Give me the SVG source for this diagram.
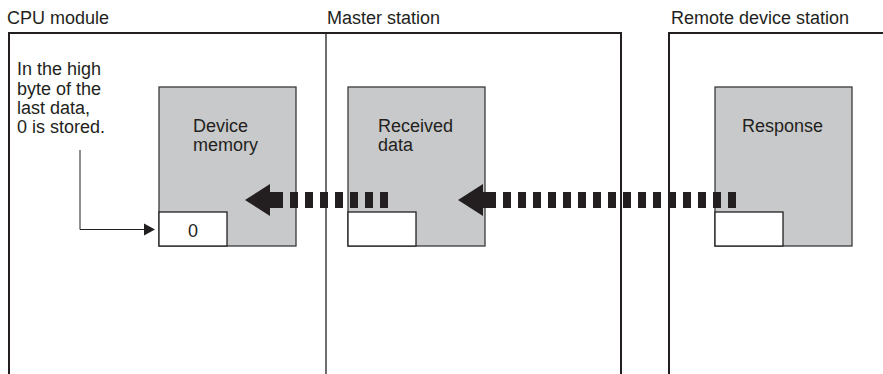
<svg xmlns="http://www.w3.org/2000/svg" width="883" height="374" viewBox="0 0 883 374">
<style>
  text { font-family: "Liberation Sans", Arial, sans-serif; font-size: 18px; fill: #231f20; }
  .frame { fill: none; stroke: #231f20; stroke-width: 2; }
  .div { fill: none; stroke: #231f20; stroke-width: 1.3; }
  .gray { fill: #c8c9ca; stroke: #3a3a3a; stroke-width: 1.3; }
  .white { fill: #ffffff; stroke: #231f20; stroke-width: 1.3; }
  .dash { fill: none; stroke: #231f20; stroke-width: 16; stroke-dasharray: 8 7; }
  .thin { fill: none; stroke: #231f20; stroke-width: 1; }
</style>
<rect width="883" height="374" fill="#ffffff"/>

<g id="cpu-module">
  <text x="7" y="24">CPU module</text>
  <path class="frame" d="M9,380 V33 H326"/>
  <text x="17" y="75">In the high</text>
  <text x="17" y="94.5">byte of the</text>
  <text x="17" y="114">last data,</text>
  <text x="17" y="133">0 is stored.</text>
</g>

<g id="master-station">
  <text x="327" y="24">Master station</text>
  <path class="frame" d="M326,33 H621 V380"/>
  <path class="div" d="M326,33 V380"/>
</g>

<g id="remote-station">
  <text x="671" y="24">Remote device station</text>
  <path class="frame" d="M669,380 V33 H890"/>
</g>

<g id="device-memory">
  <rect class="gray" x="159" y="87" width="137" height="159"/>
  <text x="193" y="131.5">Device</text>
  <text x="193" y="151">memory</text>
  <rect class="white" x="159" y="212" width="68" height="34"/>
  <text x="193" y="237" text-anchor="middle">0</text>
</g>

<g id="received-data">
  <rect class="gray" x="348" y="87" width="137" height="159"/>
  <text x="378" y="131.5">Received</text>
  <text x="378" y="151">data</text>
  <rect class="white" x="348" y="212" width="68" height="34"/>
</g>

<g id="response">
  <rect class="gray" x="715" y="87" width="137" height="159"/>
  <text x="742" y="131.5">Response</text>
  <rect class="white" x="715" y="212" width="68" height="34"/>
</g>

<g id="connectors">
  <!-- arrow into device memory -->
  <polygon fill="#231f20" points="245,200 270,184 270,216"/>
  <rect fill="#231f20" x="269" y="192" width="14" height="16"/>
  <line class="dash" x1="290" y1="200" x2="390" y2="200"/>
  <!-- arrow into received data -->
  <polygon fill="#231f20" points="458,200 483,184 483,216"/>
  <rect fill="#231f20" x="482" y="192" width="14" height="16"/>
  <line class="dash" x1="503" y1="200" x2="738" y2="200"/>
  <!-- annotation arrow -->
  <path class="thin" d="M80,150 V229.5 H146"/>
  <polygon fill="#231f20" points="155,229.5 144,223.5 144,235.5"/>
</g>
</svg>
